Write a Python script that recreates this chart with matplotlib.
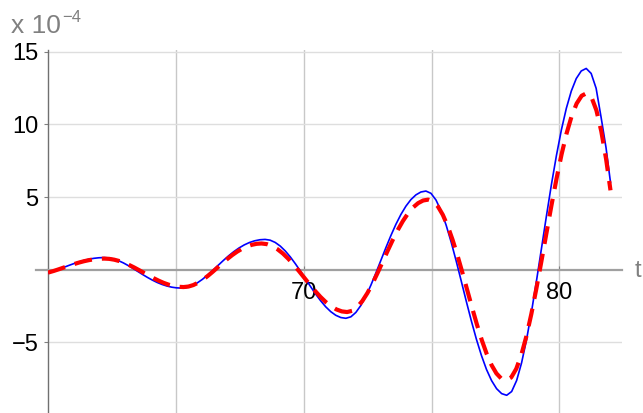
import matplotlib
matplotlib.use("Agg")
import matplotlib.pyplot as plt

plt.rcParams['font.family'] = ['Liberation Sans', 'DejaVu Sans']

# ---- data (values in units of 1e-4) ----
t_blue = [60.0, 60.221, 60.418, 60.615, 60.812, 61.009, 61.206, 61.403, 61.599, 61.796, 61.993, 62.19,
          62.379, 62.569, 62.758, 62.948, 63.137, 63.326, 63.516, 63.705, 63.894, 64.084, 64.273, 64.463, 64.652, 64.841, 65.031, 65.22,
          65.424, 65.629, 65.833, 66.038, 66.242, 66.446, 66.651, 66.855, 67.059, 67.264, 67.468, 67.673, 67.877, 68.081, 68.286, 68.49,
          68.688, 68.885, 69.083, 69.28, 69.478, 69.675, 69.873, 70.07, 70.268, 70.465, 70.663, 70.86, 71.058, 71.255, 71.453, 71.65,
          71.846, 72.041, 72.237, 72.433, 72.628, 72.824, 73.019, 73.215, 73.411, 73.606, 73.802, 73.998, 74.193, 74.389, 74.584, 74.78,
          74.978, 75.175, 75.373, 75.57, 75.768, 75.965, 76.163, 76.36, 76.558, 76.755, 76.953, 77.15, 77.348, 77.545, 77.743, 77.94,
          78.134, 78.329, 78.523, 78.718, 78.912, 79.106, 79.301, 79.495, 79.689, 79.884, 80.078, 80.273, 80.467, 80.661, 80.856, 81.05,
          81.244, 81.438, 81.631, 81.825, 82.0]
y_blue = [-0.225, -0.103, 0.023, 0.155, 0.287, 0.413, 0.530, 0.632, 0.716, 0.779, 0.817, 0.83,
          0.805, 0.732, 0.616, 0.463, 0.280, 0.080, -0.130, -0.340, -0.540, -0.724, -0.886, -1.023, -1.130, -1.208, -1.255, -1.27,
          -1.230, -1.110, -0.920, -0.670, -0.374, -0.048, 0.290, 0.625, 0.944, 1.234, 1.488, 1.700, 1.866, 1.984, 2.056, 2.08,
          2.028, 1.873, 1.622, 1.285, 0.873, 0.404, -0.106, -0.635, -1.164, -1.674, -2.143, -2.555, -2.892, -3.143, -3.298, -3.35,
          -3.248, -2.946, -2.464, -1.828, -1.072, -0.236, 0.638, 1.510, 2.346, 3.116, 3.796, 4.368, 4.820, 5.146, 5.344, 5.41,
          5.254, 4.792, 4.052, 3.072, 1.899, 0.592, -0.788, -2.180, -3.530, -4.788, -5.913, -6.872, -7.638, -8.196, -8.536, -8.65,
          -8.392, -7.632, -6.413, -4.806, -2.890, -0.765, 1.464, 3.700, 5.852, 7.843, 9.611, 11.106, 12.293, 13.154, 13.676, 13.85,
          13.506, 12.484, 10.5, 8.4, 6.0]

t_red = [60.0, 60.225, 60.423, 60.62, 60.818, 61.015, 61.213, 61.41, 61.608, 61.805, 62.003, 62.2,
         62.394, 62.588, 62.781, 62.975, 63.169, 63.363, 63.556, 63.75, 63.944, 64.138, 64.331, 64.525, 64.719, 64.913, 65.106, 65.3,
         65.491, 65.681, 65.872, 66.063, 66.253, 66.444, 66.634, 66.825, 67.016, 67.206, 67.397, 67.588, 67.778, 67.969, 68.159, 68.35,
         68.559, 68.769, 68.978, 69.188, 69.397, 69.606, 69.816, 70.025, 70.234, 70.444, 70.653, 70.863, 71.072, 71.281, 71.491, 71.7,
         71.898, 72.096, 72.294, 72.493, 72.691, 72.889, 73.087, 73.285, 73.483, 73.681, 73.879, 74.078, 74.276, 74.474, 74.672, 74.87,
         75.061, 75.251, 75.442, 75.633, 75.823, 76.014, 76.204, 76.395, 76.586, 76.776, 76.967, 77.158, 77.348, 77.539, 77.729, 77.92,
         78.117, 78.314, 78.511, 78.708, 78.904, 79.101, 79.298, 79.495, 79.692, 79.889, 80.086, 80.283, 80.479, 80.676, 80.873, 81.07,
         81.26, 81.45, 81.64, 81.83, 82.0]
y_red = [-0.205, -0.090, 0.025, 0.145, 0.265, 0.380, 0.487, 0.580, 0.656, 0.713, 0.748, 0.76,
         0.741, 0.685, 0.595, 0.473, 0.324, 0.155, -0.029, -0.220, -0.411, -0.595, -0.764, -0.913, -1.035, -1.125, -1.181, -1.2,
         -1.165, -1.064, -0.901, -0.686, -0.429, -0.146, 0.152, 0.450, 0.737, 1.002, 1.237, 1.436, 1.593, 1.708, 1.777, 1.8,
         1.755, 1.620, 1.402, 1.109, 0.751, 0.343, -0.100, -0.560, -1.020, -1.463, -1.871, -2.229, -2.522, -2.740, -2.875, -2.92,
         -2.833, -2.574, -2.160, -1.612, -0.958, -0.232, 0.532, 1.300, 2.042, 2.730, 3.342, 3.862, 4.276, 4.576, 4.759, 4.82,
         4.701, 4.346, 3.771, 2.999, 2.056, 0.980, -0.187, -1.400, -2.613, -3.780, -4.856, -5.799, -6.571, -7.146, -7.500, -7.62,
         -7.421, -6.830, -5.876, -4.601, -3.054, -1.303, 0.578, 2.515, 4.434, 6.261, 7.930, 9.381, 10.560, 11.434, 11.970, 12.15,
         11.851, 10.963, 9.524, 7.59, 5.46]

xtick_vals = [70, 80]
xtick_labels = ["70", "80"]
ytick_vals = [-5, 5, 10, 15]
ytick_labels = ["\u22125", "5", "10", "15"]
xgrid = [65, 70, 75, 80]
ygrid = [-5, 5, 10, 15]

W, H = 643, 413
fig = plt.figure(figsize=(W / 100, H / 100), dpi=100)
ax = fig.add_axes([48 / W, 0, 574 / W, 363 / H])
ax.set_xlim(60, 82.45)
ax.set_ylim(-9.87, 15.12)
ax.set_axisbelow(True)

for g in xgrid:
    ax.axvline(g, color='#c8c8c8', lw=1.0, zorder=0)
for g in ygrid:
    ax.axhline(g, color='#dedede', lw=1.0, zorder=0)

ax.plot(t_blue, y_blue, color='#0000ff', lw=1.2, zorder=3,
        solid_joinstyle='round')
ax.plot(t_red, y_red, color='#ff0000', lw=3.0, zorder=4,
        linestyle=(0, (4.3, 2.4)), dash_capstyle='butt', dash_joinstyle='round')

for s in ['top', 'right']:
    ax.spines[s].set_visible(False)
ax.spines['left'].set_color('#707070')
ax.spines['left'].set_linewidth(1.0)
ax.spines['bottom'].set_position(('data', 0))
ax.spines['bottom'].set_color('#a0a0a0')
ax.spines['bottom'].set_linewidth(1.6)
# small extension of the horizontal axis to the left of the vertical axis
ax.plot([-12 / 574, 0], [0, 0], transform=ax.get_yaxis_transform(),
        color='#a0a0a0', lw=1.6, clip_on=False, zorder=1)

ax.set_xticks(xtick_vals)
ax.set_xticklabels(xtick_labels)
ax.set_yticks(ytick_vals)
ax.set_yticklabels(ytick_labels)
ax.tick_params(axis='x', direction='in', length=3, width=0.8, color='#808080',
               labelsize=17, pad=9, labelcolor='black')
ax.tick_params(axis='y', direction='out', length=3, width=0.8, color='#808080',
               labelsize=17, pad=4, labelcolor='black')

fig.text(635 / W, 1 - 271 / H, "t", color='#808080', fontsize=17,
         ha='left', va='center')
fig.text(11 / W, 1 - 33 / H, "x 10", color='#808080', fontsize=19,
         ha='left', va='baseline')
fig.text(62 / W, 1 - 21.5 / H, "\u22124", color='#808080', fontsize=12,
         ha='left', va='baseline')

fig.savefig("out.png", dpi=100)
